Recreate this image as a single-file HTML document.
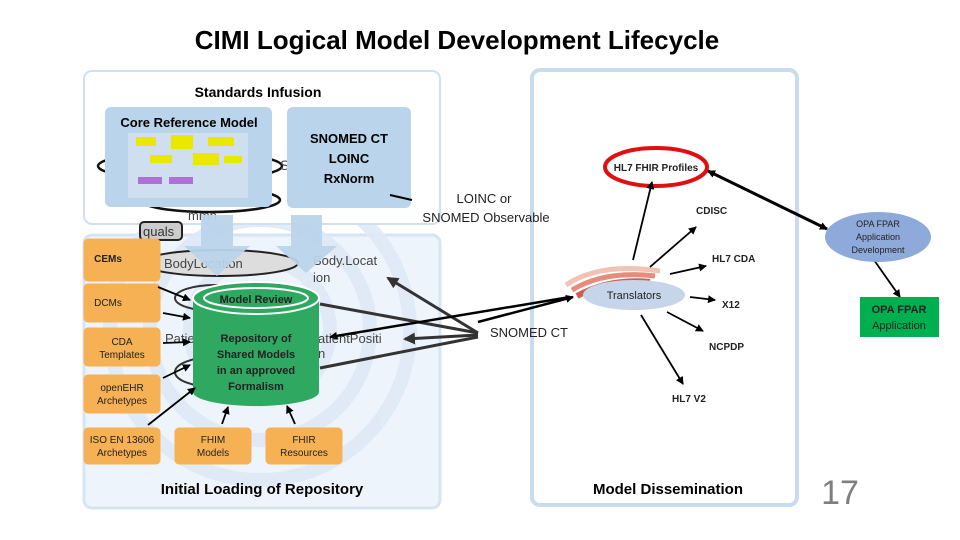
<!DOCTYPE html>
<html><head><meta charset="utf-8"><style>
html,body{margin:0;padding:0;background:#fff;}
svg{display:block;font-family:"Liberation Sans",sans-serif;}
.b{font-weight:bold;}
</style></head><body>
<svg width="960" height="540" viewBox="0 0 960 540" xmlns="http://www.w3.org/2000/svg">
<defs>
<marker id="ah" markerWidth="8" markerHeight="8" refX="7" refY="4" orient="auto" markerUnits="userSpaceOnUse"><path d="M0,0 L8,4 L0,8 z" fill="#000"/></marker>
<marker id="ahs" markerWidth="8" markerHeight="8" refX="1" refY="4" orient="auto" markerUnits="userSpaceOnUse"><path d="M8,0 L0,4 L8,8 z" fill="#000"/></marker>
<marker id="ahg" markerWidth="12" markerHeight="12" refX="10" refY="6" orient="auto" markerUnits="userSpaceOnUse"><path d="M0,0 L12,6 L0,12 z" fill="#333"/></marker>
</defs>
<rect width="960" height="540" fill="#fff"/>
<text x="457" y="49" text-anchor="middle" font-size="26" class="b">CIMI Logical Model Development Lifecycle</text>

<!-- Lower left box -->
<rect x="84" y="235" width="356" height="273" rx="8" fill="#eef4fb" stroke="#d6e5f4" stroke-width="3"/>
<g fill="none" stroke="#dfeaf6" stroke-width="14" opacity="0.9">
<circle cx="260" cy="330" r="70"/><circle cx="260" cy="330" r="110"/><circle cx="260" cy="330" r="150"/>
</g>
<!-- Standards infusion -->
<rect x="84" y="71" width="356" height="153" rx="8" fill="#fff" stroke="#cfe0f1" stroke-width="2"/>
<text x="258" y="97" text-anchor="middle" font-size="14" class="b">Standards Infusion</text>

<!-- Right box -->
<rect x="532" y="70" width="265" height="435" rx="8" fill="#fff" stroke="#c8dcef" stroke-width="4"/>
<text x="668" y="494" text-anchor="middle" font-size="15" class="b">Model Dissemination</text>

<!-- background faint texts/shapes -->
<ellipse cx="190" cy="166" rx="92" ry="14" fill="none" stroke="#111" stroke-width="2.5"/>
<ellipse cx="210" cy="200" rx="70" ry="12" fill="none" stroke="#111" stroke-width="2.5"/>
<text x="280" y="170" font-size="14" fill="#444">S</text>
<text x="188" y="220" font-size="13" fill="#444">mmn</text>
<rect x="140" y="222" width="42" height="18" rx="4" fill="#ccc" stroke="#222" stroke-width="2"/>
<text x="143" y="236" font-size="13" fill="#333">quals</text>
<ellipse cx="220" cy="263" rx="78" ry="13" fill="#ddd" stroke="#222" stroke-width="2"/>
<text x="164" y="268" font-size="13" fill="#444">BodyLocation</text>
<text x="313" y="265" font-size="13" fill="#444">Body.Locat</text>
<text x="313" y="282" font-size="13" fill="#444">ion</text>
<ellipse cx="215" cy="298" rx="40" ry="13" fill="none" stroke="#333" stroke-width="2"/>
<ellipse cx="215" cy="372" rx="40" ry="15" fill="none" stroke="#333" stroke-width="2"/>
<text x="165" y="343" font-size="13" fill="#444">Patie</text>
<text x="318" y="343" font-size="13" fill="#444">atientPositi</text>
<text x="318" y="358" font-size="13" fill="#444">n</text>

<!-- Core reference model -->
<rect x="105" y="107" width="167" height="100" rx="6" fill="#bad4eb"/>
<text x="189" y="127" text-anchor="middle" font-size="13" class="b">Core Reference Model</text>
<rect x="128" y="133" width="120" height="65" fill="#cfdff0"/>
<rect x="136" y="137" width="20" height="9" fill="#e8e800"/>
<rect x="171" y="135" width="22" height="14" fill="#e8e800"/>
<rect x="208" y="137" width="26" height="9" fill="#e8e800"/>
<rect x="150" y="155" width="22" height="8" fill="#e8e800"/>
<rect x="193" y="153" width="26" height="12" fill="#e8e800"/>
<rect x="224" y="156" width="18" height="7" fill="#e8e800"/>
<rect x="138" y="177" width="24" height="7" fill="#b070d8"/>
<rect x="169" y="177" width="24" height="7" fill="#b070d8"/>
<!-- SNOMED box -->
<rect x="287" y="107" width="124" height="101" rx="6" fill="#bad4eb"/>
<text x="349" y="143" text-anchor="middle" font-size="13" class="b">SNOMED CT</text>
<text x="349" y="163" text-anchor="middle" font-size="13" class="b">LOINC</text>
<text x="349" y="183" text-anchor="middle" font-size="13" class="b">RxNorm</text>

<!-- blue arrows -->
<path d="M201,215 H233 V246 H250 L217,276 L184,246 H201 Z" fill="#bad4eb" opacity="0.95"/>
<path d="M291,215 H322 V246 H337 L306,273 L276,246 H291 Z" fill="#bad4eb" opacity="0.95"/>

<!-- orange boxes -->
<g fill="#f7b155" stroke="#f7b155">
<rect x="84" y="239" width="76" height="42" rx="4"/>
<rect x="84" y="284" width="76" height="38" rx="4"/>
<rect x="84" y="328" width="76" height="38" rx="4"/>
<rect x="84" y="375" width="76" height="38" rx="4"/>
<rect x="84" y="428" width="76" height="36" rx="4"/>
<rect x="175" y="428" width="76" height="36" rx="4"/>
<rect x="266" y="428" width="76" height="36" rx="4"/>
</g>
<g font-size="10" text-anchor="middle" fill="#222">
<text x="108" y="262" class="b">CEMs</text>
<text x="108" y="306">DCMs</text>
<text x="122" y="345">CDA</text><text x="122" y="358">Templates</text>
<text x="122" y="391">openEHR</text><text x="122" y="404">Archetypes</text>
<text x="122" y="443">ISO EN 13606</text><text x="122" y="456">Archetypes</text>
<text x="213" y="443">FHIM</text><text x="213" y="456">Models</text>
<text x="304" y="443">FHIR</text><text x="304" y="456">Resources</text>
</g>

<!-- cylinder -->
<path d="M193,298 V392 A63,14 0 0 0 319,392 V298 Z" fill="#2fa862"/>
<ellipse cx="256" cy="298" rx="63" ry="16" fill="#2fa862" stroke="#fff" stroke-width="2"/>
<ellipse cx="256" cy="298" rx="52" ry="10" fill="none" stroke="#fff" stroke-width="2"/>
<text x="256" y="303" text-anchor="middle" font-size="11" class="b" fill="#222">Model Review</text>
<g font-size="11" class="b" text-anchor="middle" fill="#222">
<text x="256" y="342">Repository of</text>
<text x="256" y="358">Shared Models</text>
<text x="256" y="374">in an approved</text>
<text x="256" y="390">Formalism</text>
</g>
<text x="262" y="494" text-anchor="middle" font-size="15" class="b">Initial Loading of Repository</text>

<!-- arrows into cylinder -->
<g stroke="#000" stroke-width="1.8" marker-end="url(#ah)" fill="none">
<line x1="158" y1="287" x2="190" y2="300"/>
<line x1="163" y1="313" x2="190" y2="318"/>
<line x1="163" y1="343" x2="190" y2="342"/>
<line x1="163" y1="378" x2="190" y2="365"/>
<line x1="148" y1="425" x2="195" y2="388"/>
<line x1="222" y1="424" x2="228" y2="407"/>
<line x1="295" y1="424" x2="287" y2="406"/>
</g>
<!-- gray thick lines to SNOMED CT -->
<g stroke="#333" stroke-width="3" fill="none">
<line x1="320" y1="304" x2="478" y2="333"/>
<line x1="320" y1="368" x2="478" y2="337"/>
<line x1="478" y1="333" x2="388" y2="278" marker-end="url(#ahg)"/>
<line x1="478" y1="335" x2="405" y2="339" marker-end="url(#ahg)"/>
</g>
<line x1="390" y1="195" x2="412" y2="200" stroke="#000" stroke-width="2"/>
<text x="484" y="203" text-anchor="middle" font-size="13" fill="#222">LOINC or</text>
<text x="486" y="222" text-anchor="middle" font-size="13" fill="#222">SNOMED Observable</text>
<text x="490" y="337" font-size="13" fill="#222">SNOMED CT</text>

<!-- long arrow left from right -->
<line x1="570" y1="297" x2="330" y2="337" stroke="#000" stroke-width="2.5" marker-end="url(#ah)"/>
<line x1="478" y1="322" x2="573" y2="297" stroke="#000" stroke-width="2.5" marker-end="url(#ah)"/>

<!-- Translators -->
<path d="M566,285 Q600,262 660,271" fill="none" stroke="#f2c2b6" stroke-width="5"/>
<path d="M572,290 Q605,270 655,276" fill="none" stroke="#e58d7b" stroke-width="5"/>
<path d="M577,296 Q610,278 650,282" fill="none" stroke="#d05e52" stroke-width="6"/>
<ellipse cx="634" cy="295" rx="51" ry="15" fill="#c6d5ea"/>
<text x="634" y="299" text-anchor="middle" font-size="11" fill="#222">Translators</text>

<ellipse cx="656" cy="167" rx="51" ry="19" fill="#fff" stroke="#e01010" stroke-width="4"/>
<text x="656" y="171" text-anchor="middle" font-size="10" class="b" fill="#222">HL7 FHIR Profiles</text>

<g stroke="#000" stroke-width="1.8" fill="none" marker-end="url(#ah)">
<line x1="633" y1="260" x2="652" y2="182"/>
<line x1="650" y1="267" x2="696" y2="227"/>
<line x1="670" y1="274" x2="706" y2="266"/>
<line x1="690" y1="297" x2="715" y2="300"/>
<line x1="667" y1="312" x2="703" y2="331"/>
<line x1="641" y1="315" x2="683" y2="384"/>
<line x1="874" y1="260" x2="900" y2="297"/>
</g>
<line x1="708" y1="171" x2="827" y2="229" stroke="#000" stroke-width="3" marker-end="url(#ah)" marker-start="url(#ahs)"/>
<g font-size="10" class="b" fill="#222">
<text x="696" y="214">CDISC</text>
<text x="712" y="262">HL7 CDA</text>
<text x="722" y="308">X12</text>
<text x="709" y="350">NCPDP</text>
<text x="672" y="402">HL7 V2</text>
</g>
<ellipse cx="878" cy="237" rx="53" ry="25" fill="#8eaadb"/>
<g font-size="9" text-anchor="middle" fill="#222">
<text x="878" y="227">OPA FPAR</text>
<text x="878" y="240">Application</text>
<text x="878" y="253">Development</text>
</g>
<rect x="860" y="297" width="79" height="40" fill="#00b050"/>
<text x="899" y="313" text-anchor="middle" font-size="11" class="b" fill="#222">OPA FPAR</text>
<text x="899" y="329" text-anchor="middle" font-size="11" fill="#222">Application</text>

<text x="840" y="504" text-anchor="middle" font-size="34" fill="#7f7f7f">17</text>
</svg>
</body></html>
